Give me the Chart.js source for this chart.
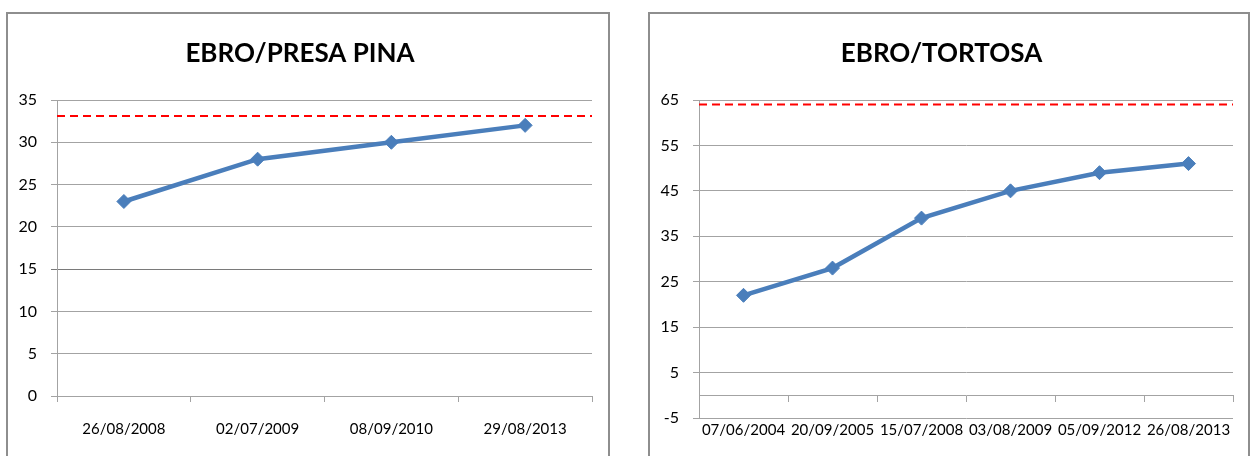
<!DOCTYPE html>
<html>
<head>
<meta charset="utf-8">
<script src="https://cdn.jsdelivr.net/npm/chart.js@4/dist/chart.umd.min.js"></script>
<style>
  html, body { margin: 0; padding: 0; background: #fff; overflow: hidden; }
  .panel { position: absolute; top: 12px; height: 460px; border: 2px solid #8e8e8e; background: #fff; }
  #p1 { left: 6px; width: 600px; }
  #p2 { left: 648px; width: 598px; }
  canvas { display: block; }
</style>
</head>
<body>
<div class="panel" id="p1"><canvas id="chart1" width="600" height="450"></canvas></div>
<div class="panel" id="p2"><canvas id="chart2" width="598" height="450"></canvas></div>
<script>
// EBRO/PRESA PINA
const pinaTitle = 'EBRO/PRESA PINA';
const pinaDates = ['26/08/2008', '02/07/2009', '08/09/2010', '29/08/2013'];
const pinaValues = [23, 28, 30, 32];
const pinaYTicks = [0, 5, 10, 15, 20, 25, 30, 35];
const pinaLimit = 33.1;

// EBRO/TORTOSA
const tortosaTitle = 'EBRO/TORTOSA';
const tortosaDates = ['07/06/2004', '20/09/2005', '15/07/2008', '03/08/2009', '05/09/2012', '26/08/2013'];
const tortosaValues = [22, 28, 39, 45, 49, 51];
const tortosaYTicks = [-5, 5, 15, 25, 35, 45, 55, 65];
const tortosaLimit = 64;

const BLUE = '#4a7ebb';
const GRID = '#a3a3a3';
const FONT = 'Lato, "Open Sans", sans-serif';

// red dashed limit line across the whole plot area
const limitLine = {
  id: 'limitLine',
  beforeDatasetsDraw(chart, args, opts) {
    const { ctx, chartArea } = chart;
    const y = chart.scales.y.getPixelForValue(opts.value);
    ctx.save();
    ctx.strokeStyle = '#ff0000';
    ctx.lineWidth = 2;
    ctx.setLineDash([8, 5]);
    ctx.beginPath();
    ctx.moveTo(chartArea.left, y);
    ctx.lineTo(chartArea.right, y);
    ctx.stroke();
    ctx.restore();
  }
};

function buildChart(id, title, labels, values, yTicks, limit, opts) {
  const step = yTicks[1] - yTicks[0];
  const scales = {
    x: {
      type: 'category',
      offset: true,
      grid: opts.xAtZero
        ? { display: false, drawTicks: false }
        : { display: true, drawOnChartArea: false, drawTicks: true, tickLength: 6, offset: true, color: GRID },
      border: { display: !opts.xAtZero, color: GRID },
      ticks: { color: '#000', font: { family: FONT, size: 15 }, padding: opts.xPad, autoSkip: false, maxRotation: 0, minRotation: 0 },
      afterFit: s => { s.height = opts.xHeight; }
    },
    y: {
      min: yTicks[0],
      max: yTicks[yTicks.length - 1],
      ticks: { stepSize: step, color: '#000', font: { family: FONT, size: 16 }, padding: 14 },
      grid: {
        color: c => (c.tick && c.tick.value === opts.darkLine) ? '#7a7a7a' : GRID,
        tickLength: 6
      },
      border: { color: GRID },
      afterFit: s => { s.width = 49; }
    }
  };
  if (opts.xAtZero) {
    // axis line crossing at 0, labels stay at the bottom
    scales.x2 = {
      type: 'category',
      axis: 'x',
      position: { y: 0 },
      offset: true,
      ticks: { display: false },
      grid: { display: true, drawOnChartArea: false, drawTicks: true, tickLength: 6, offset: true, color: GRID },
      border: { display: true, color: GRID }
    };
  }
  return new Chart(document.getElementById(id), {
    type: 'line',
    data: {
      labels,
      datasets: [{
        data: values,
        borderColor: BLUE,
        backgroundColor: BLUE,
        borderWidth: 4.5,
        pointStyle: 'rectRot',
        pointRadius: 7,
        pointBorderWidth: 1,
        tension: 0
      }]
    },
    options: {
      responsive: false,
      animation: false,
      layout: { padding: { left: 0, right: opts.padRight, top: 0, bottom: 0 } },
      plugins: {
        legend: { display: false },
        tooltip: { enabled: false },
        title: {
          display: true,
          text: title,
          color: '#000',
          font: { family: FONT, size: 26, weight: 'bold' },
          padding: { top: 24, bottom: 30.8 }
        },
        limitLine: { value: limit }
      },
      scales
    },
    plugins: [limitLine]
  });
}

buildChart('chart1', pinaTitle, pinaDates, pinaValues, pinaYTicks, pinaLimit,
  { xAtZero: false, xHeight: 68, xPad: 18, padRight: 16, darkLine: 15 });
buildChart('chart2', tortosaTitle, tortosaDates, tortosaValues, tortosaYTicks, tortosaLimit,
  { xAtZero: true, xHeight: 46, xPad: 3, padRight: 15, darkLine: null });
</script>
</body>
</html>
